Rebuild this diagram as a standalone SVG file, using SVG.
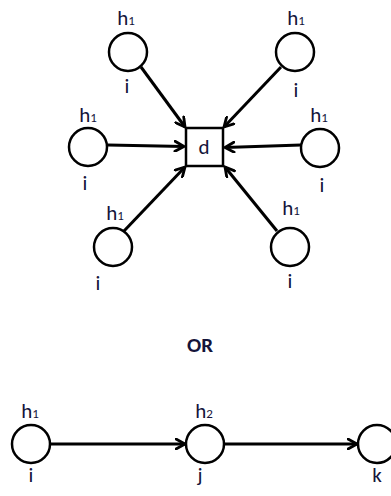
<svg xmlns="http://www.w3.org/2000/svg" width="391" height="496" viewBox="0 0 391 496">
<defs>
<marker id="arr" viewBox="0 0 12 12" refX="10.5" refY="6" markerWidth="12" markerHeight="12" markerUnits="userSpaceOnUse" orient="auto">
<path d="M1.5,1 L10.5,6 L1.5,11" fill="none" stroke="#000" stroke-width="2.8" stroke-linecap="round" stroke-linejoin="miter"/>
</marker>
<style>
.n{fill:#fff;stroke:#000;stroke-width:2.5}
.t{font-family:"Carlito","Lato","Liberation Sans",sans-serif;font-size:21px;fill:#14143a;text-anchor:middle}
.s{font-size:13px}
.e{stroke:#000;stroke-width:3;fill:none;marker-end:url(#arr)}
</style>
</defs>
<rect width="391" height="496" fill="#fff"/>
<g id="connectors">
<line class="e" x1="141" y1="67" x2="185" y2="127"/>
<line class="e" x1="281" y1="67" x2="224" y2="127"/>
<line class="e" x1="108" y1="145" x2="184" y2="146.5"/>
<line class="e" x1="301" y1="145" x2="225" y2="147.5"/>
<line class="e" x1="124" y1="231" x2="185" y2="167"/>
<line class="e" x1="277" y1="231" x2="225" y2="167"/>
<line class="e" x1="50" y1="444" x2="185" y2="444"/>
<line class="e" x1="224" y1="444" x2="357" y2="444"/>
</g>
<g id="d"><rect class="n" x="186" y="128" width="37" height="38"/><text class="t" x="204" y="154">d</text></g>
<g id="n1"><circle class="n" cx="128" cy="52" r="19"/><text class="t" x="126" y="25">h<tspan class="s">1</tspan></text><text class="t" x="127" y="93">i</text></g>
<g id="n2"><circle class="n" cx="295" cy="52" r="19"/><text class="t" x="296" y="25">h<tspan class="s">1</tspan></text><text class="t" x="296" y="97">i</text></g>
<g id="n3"><circle class="n" cx="88" cy="147" r="19"/><text class="t" x="88" y="122">h<tspan class="s">1</tspan></text><text class="t" x="85" y="190">i</text></g>
<g id="n4"><circle class="n" cx="320" cy="148" r="19"/><text class="t" x="319" y="122">h<tspan class="s">1</tspan></text><text class="t" x="322" y="192">i</text></g>
<g id="n5"><circle class="n" cx="113" cy="247" r="19"/><text class="t" x="115" y="220">h<tspan class="s">1</tspan></text><text class="t" x="98" y="290">i</text></g>
<g id="n6"><circle class="n" cx="290" cy="247" r="19"/><text class="t" x="291" y="215">h<tspan class="s">1</tspan></text><text class="t" x="290" y="288">i</text></g>
<text class="t" x="200" y="352" style="font-weight:bold;font-size:21px">OR</text>
<g id="ni"><circle class="n" cx="31" cy="444" r="19"/><text class="t" x="30" y="418">h<tspan class="s">1</tspan></text><text class="t" x="31" y="482">i</text></g>
<g id="nj"><circle class="n" cx="205" cy="444" r="19"/><text class="t" x="204" y="418">h<tspan class="s">2</tspan></text><text class="t" x="200" y="482">j</text></g>
<g id="nk"><circle class="n" cx="377" cy="444" r="19"/><text class="t" x="377" y="482">k</text></g>
</svg>
